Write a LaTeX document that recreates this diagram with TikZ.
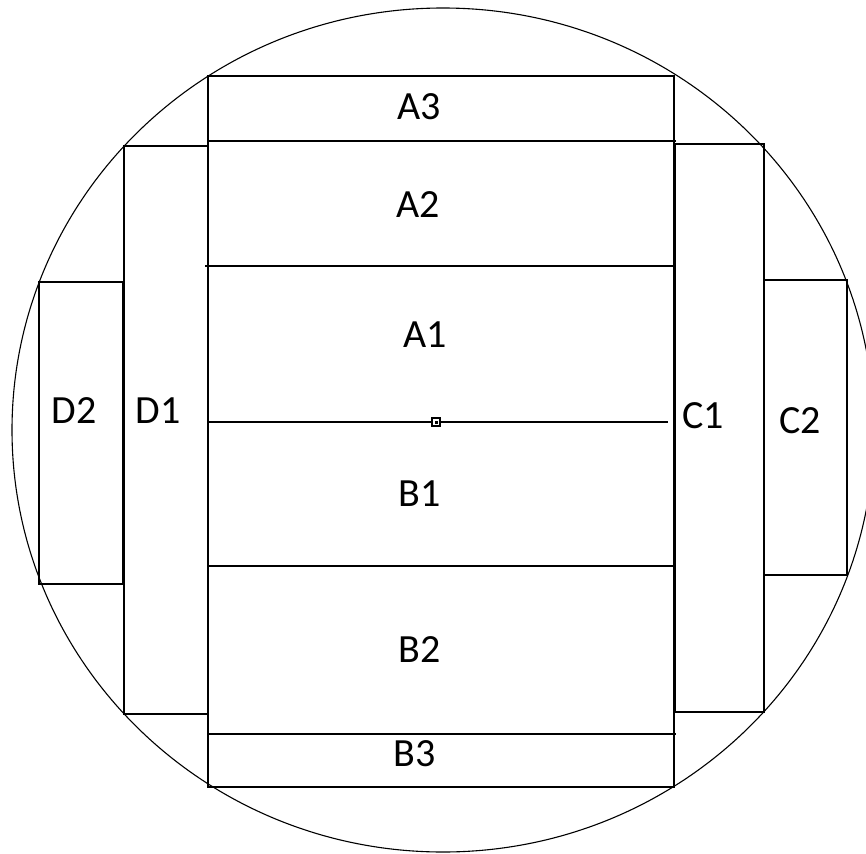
\documentclass[tikz,border=0pt]{standalone}
\usepackage{fontspec}
\setmainfont{Carlito}
\begin{document}
\begin{tikzpicture}[x=1pt,y=-1pt,
  box/.style={draw=black,line width=1.3pt},
  thickedge/.style={draw=black,line width=2.2pt},
  lbl/.style={font=\fontsize{40}{42}\selectfont,inner sep=0pt,text=black}]
\useasboundingbox (0,0) rectangle (866,853);
% outer circle
\draw[line width=1.1pt] (443,430) ellipse [x radius=431, y radius=422];
% main column
\draw[box] (208,76) rectangle (674,787);
\draw[box] (208,141) -- (676,141);
\draw[box] (205,266) -- (674,266);
\draw[box] (208,422) -- (668,422);
\draw[box] (208,566) -- (674,566);
\draw[box] (208,734) -- (676,734);
% side columns
\draw[box] (124,146) rectangle (208,714);
\draw[box] (39,282) rectangle (123,584);
\draw[thickedge] (123,282) -- (123,584);
\draw[box] (674,144) rectangle (764,712);
\draw[thickedge] (675,144) -- (675,712);
\draw[box] (764,280) rectangle (847,575);
% centre marker
\node[draw=black,line width=1.5pt,fill=white,minimum size=8pt,inner sep=0pt] (ctr) at (436,422) {};
\node[fill=black,minimum size=3pt,inner sep=0pt] (ctrdot) at (ctr.center) {};
% labels
\node[lbl] (A3) at (419,107) {A3};
\node[lbl] (A2) at (418,205) {A2};
\node[lbl] (A1) at (425,335) {A1};
\node[lbl] (B1) at (420,494) {B1};
\node[lbl] (B2) at (420,650) {B2};
\node[lbl] (B3) at (415,754) {B3};
\node[lbl] (D1) at (158,411) {D1};
\node[lbl] (D2) at (74,411) {D2};
\node[lbl] (C1) at (703,416) {C1};
\node[lbl] (C2) at (800,421) {C2};
\end{tikzpicture}
\end{document}
